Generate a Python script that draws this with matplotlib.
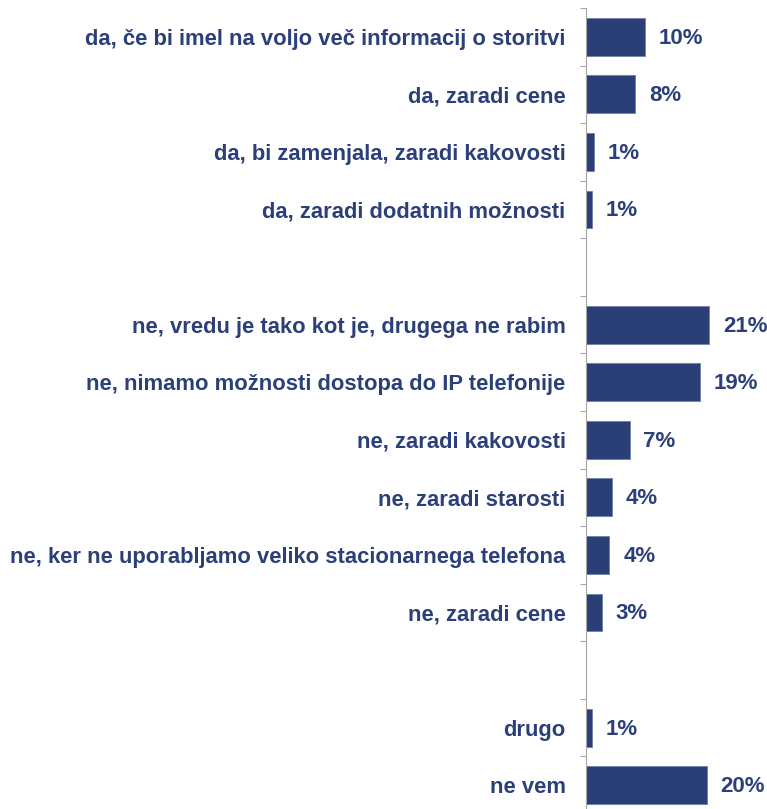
import matplotlib
matplotlib.use("Agg")
import matplotlib.pyplot as plt

# categories top to bottom, empty string = spacer row
categories = [
    "da, če bi imel na voljo več informacij o storitvi",
    "da, zaradi cene",
    "da, bi zamenjala, zaradi kakovosti",
    "da, zaradi dodatnih možnosti",
    "",
    "ne, vredu je tako kot je, drugega ne rabim",
    "ne, nimamo možnosti dostopa do IP telefonije",
    "ne, zaradi kakovosti",
    "ne, zaradi starosti",
    "ne, ker ne uporabljamo veliko stacionarnega telefona",
    "ne, zaradi cene",
    "",
    "drugo",
    "ne vem",
]
values = [10.0, 8.3, 1.4, 1.0, None, 20.8, 19.2, 7.4, 4.4, 4.0, 2.7, None, 1.1, 20.4]

BAR = "#293F75"
TEXT = "#2B4079"

plt.rcParams["font.family"] = ["Liberation Sans", "DejaVu Sans"]

fig = plt.figure(figsize=(7.67, 8.09), dpi=100)
# axes bottom runs slightly past the figure edge like the original crop
ax = fig.add_axes([585.7 / 767, -5 / 809, 181.3 / 767, 806 / 809])

n = len(categories)
pos = list(range(n))
for i, v in enumerate(values):
    if v is None:
        continue
    ax.barh(i, v, height=0.66, color=BAR, edgecolor="#6f80a8", linewidth=0.6)
    ax.annotate(f"{round(v)}%", (v, i), xytext=(10, -1), textcoords="offset points",
                va="center", ha="left", fontsize=16, fontweight="bold", color=TEXT)

ax.set_ylim(n - 0.5, -0.5)
ax.set_xlim(0, 181.3 / 5.93)

ax.set_yticks(pos)
ax.set_yticklabels(categories, fontsize=15.8, fontweight="bold", color=TEXT)
ax.tick_params(axis="y", which="major", length=0, pad=14.5)
ax.set_yticks([p - 0.5 for p in pos] + [n - 0.5], minor=True)
ax.tick_params(axis="y", which="minor", length=4.5, width=0.8, color="#A6A6A6")

ax.xaxis.set_visible(False)
for s in ["top", "right", "bottom"]:
    ax.spines[s].set_visible(False)
ax.spines["left"].set_color("#A6A6A6")
ax.spines["left"].set_linewidth(0.8)

fig.savefig("out.png", dpi=100)
